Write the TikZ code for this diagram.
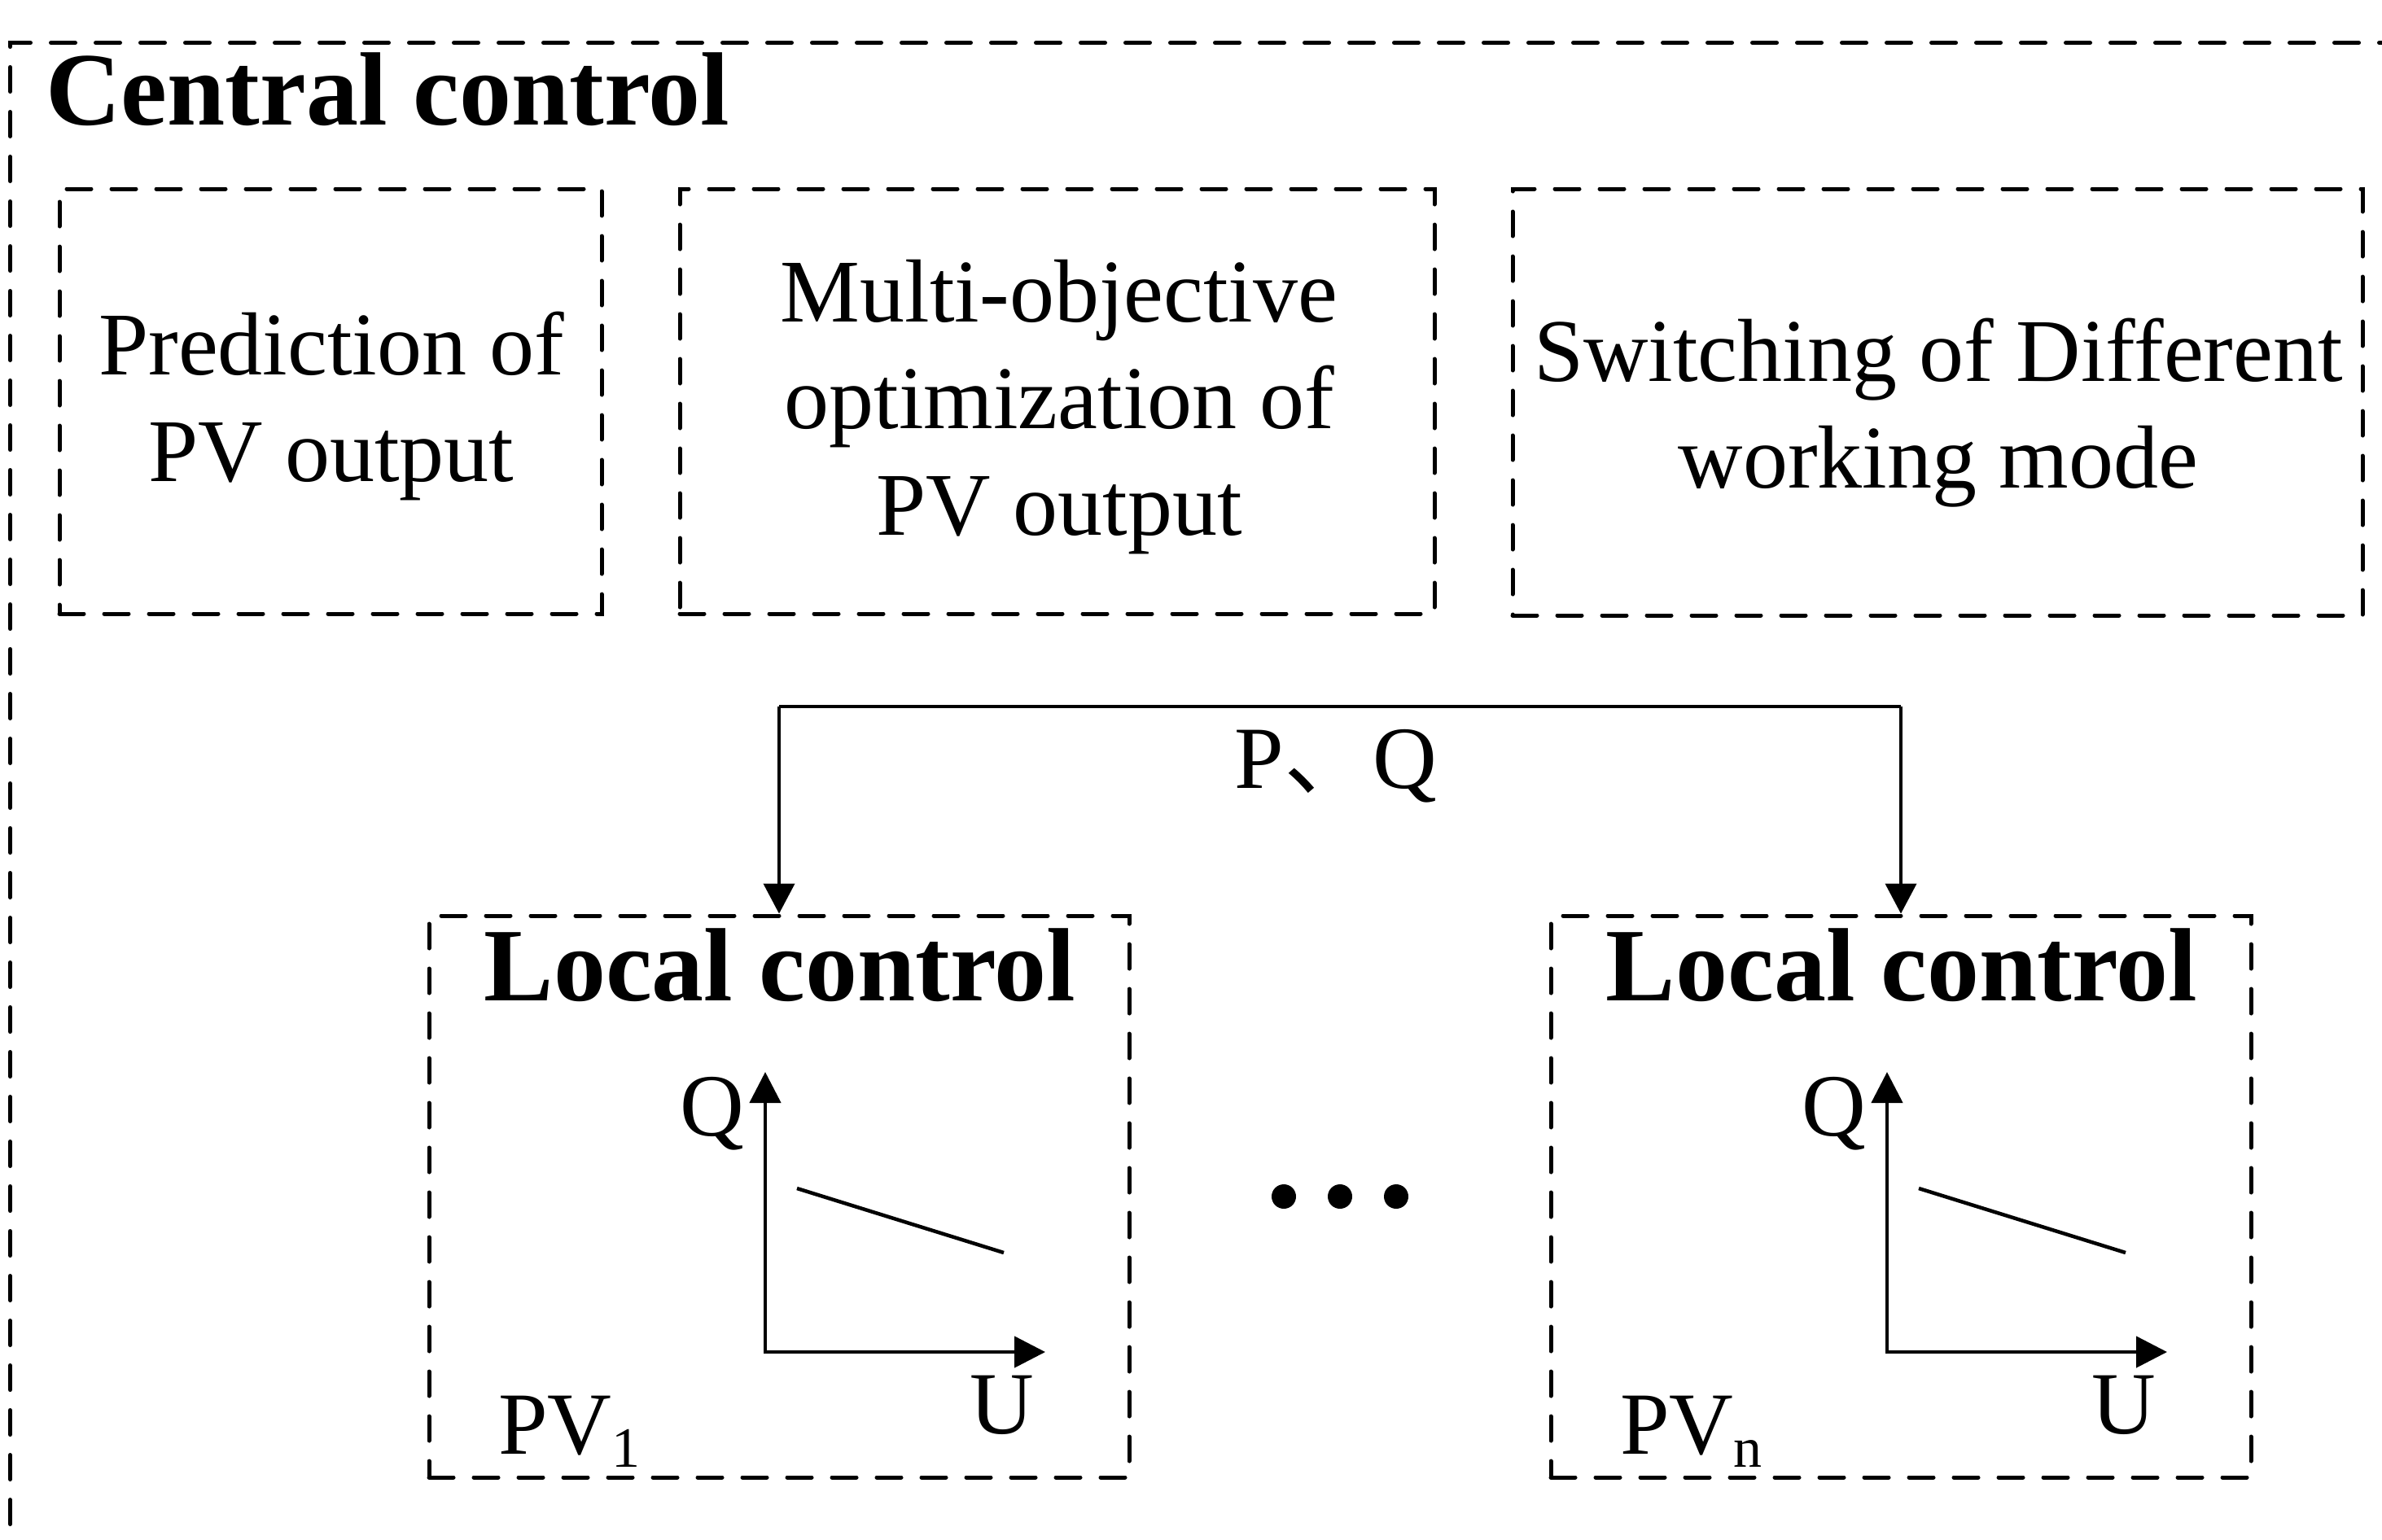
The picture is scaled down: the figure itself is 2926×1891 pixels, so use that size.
\documentclass[tikz,border=0pt]{standalone}
\usepackage{fontspec}
\setmainfont{Liberation Serif}
\newfontfamily\cjk{Noto Sans CJK SC}
\usetikzlibrary{arrows.meta}
\begin{document}
\begin{tikzpicture}[x=1pt,y=-1pt,
  dbox/.style={draw, line width=5pt, dash pattern=on 30pt off 25pt, line cap=round, inner sep=0pt},
  body/.style={font=\fontsize{110}{131}\selectfont, align=center, inner sep=0pt},
  head/.style={font=\fontsize{128}{150}\selectfont\bfseries, inner sep=0pt},
  lbl/.style={font=\fontsize{109}{131}\selectfont, inner sep=0pt},
  conn/.style={line width=4pt, -{Triangle[length=37pt,width=38pt]}},
  axis/.style={line width=4.5pt, {Triangle[length=38pt,width=38pt]}-{Triangle[length=38pt,width=38pt]}},
  curve/.style={line width=4.5pt},
  dot/.style={circle, fill, minimum size=30pt, inner sep=0pt},
]
\useasboundingbox (0,0) rectangle (2926,1891);
\begin{scope}
\clip (0,0) rectangle (2926,1891);
\node[dbox, anchor=north west, minimum width=3000pt, minimum height=2000pt] (central) at (10,50) {};
\end{scope}
\node[head, anchor=base west] (centralt) at (56,153) {Central control};

% upper boxes
\node[dbox, minimum width=666pt, minimum height=522pt] (pred) at (406,493) {};
\node[dbox, minimum width=927pt, minimum height=522pt] (moo) at (1298.5,493) {};
\node[dbox, minimum width=1044pt, minimum height=524pt] (sw) at (2380,494) {};
\node[body, anchor=base] (predt) at (407,591) {Prediction of\\PV output};
\node[body, anchor=base] (moot) at (1301,657) {Multi-objective\\optimization of\\PV output};
\node[body, anchor=base] (swt) at (2381,599) {Switching of Different\\working mode};

% local boxes
\node[dbox, minimum width=860pt, minimum height=690pt] (lc1) at (957,1470) {};
\node[dbox, minimum width=860pt, minimum height=690pt] (lc2) at (2335,1470) {};
\node[head, anchor=base] (lc1t) at (958,1229) {Local control};
\node[head, anchor=base] (lc2t) at (2336,1229) {Local control};

% connector
\coordinate (busL) at (957,868);
\coordinate (busR) at (2335,868);
\draw[line width=4pt] (busL) -- (busR);
\draw[conn] (busL) -- (lc1.north);
\draw[conn] (busR) -- (lc2.north);
\node[lbl, anchor=base] (pq) at (1641,968) {P{\cjk 、}Q};

% characteristic 1
\coordinate (o1) at (940,1661);
\coordinate (qt1) at (940,1317);
\coordinate (ut1) at (1284,1661);
\coordinate (s1a) at (979,1460);
\coordinate (s1b) at (1233,1539);
\draw[axis] (qt1) -- (o1) -- (ut1);
\draw[curve] (s1a) -- (s1b);
\node[lbl, anchor=base east] (q1) at (914,1395) {Q};
\node[lbl, anchor=base] (u1) at (1231,1761) {U};
\node[lbl, anchor=base west] (pv1) at (612,1786) {PV\raisebox{-16pt}{\fontsize{70}{70}\selectfont 1}};

% characteristic n
\coordinate (o2) at (2318,1661);
\coordinate (qt2) at (2318,1317);
\coordinate (ut2) at (2662,1661);
\coordinate (s2a) at (2357,1460);
\coordinate (s2b) at (2611,1539);
\draw[axis] (qt2) -- (o2) -- (ut2);
\draw[curve] (s2a) -- (s2b);
\node[lbl, anchor=base east] (q2) at (2292,1395) {Q};
\node[lbl, anchor=base] (u2) at (2609,1761) {U};
\node[lbl, anchor=base west] (pv2) at (1990,1786) {PV\raisebox{-16pt}{\fontsize{70}{70}\selectfont n}};

% dots
\node[dot] (d1) at (1577,1470) {};
\node[dot] (d2) at (1646,1470) {};
\node[dot] (d3) at (1715,1470) {};
\end{tikzpicture}
\end{document}
